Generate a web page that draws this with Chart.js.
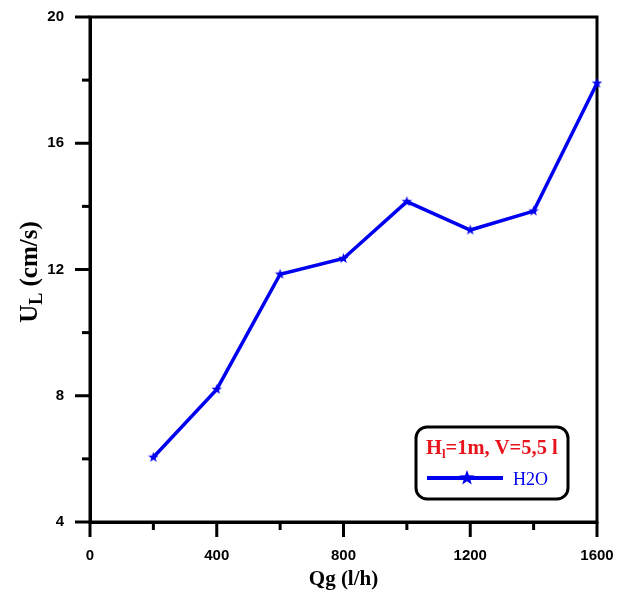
<!DOCTYPE html>
<html>
<head>
<meta charset="UTF-8" />
<script src="https://cdn.jsdelivr.net/npm/chart.js"></script>
<style>
  html, body { margin: 0; padding: 0; background: #fff; }
  #wrap { width: 628px; height: 593px; }
</style>
</head>
<body>
<div id="wrap"><canvas id="chart" width="628" height="593"></canvas></div>
<script>
  // Débit de gaz (l/h) et vitesse du liquide (cm/s)
  const qg = [200, 400, 600, 800, 1000, 1200, 1400, 1600];
  const uL = [6.05, 8.2, 11.85, 12.35, 14.15, 13.25, 13.85, 17.9];
  const xTicks = [0, 400, 800, 1200, 1600];
  const yTicks = [4, 8, 12, 16, 20];
  const xMinor = [200, 600, 1000, 1400];
  const yMinor = [6, 10, 14, 18];
  const seriesName = "H2O";
  const boxTitle = ["H", "l", "=1m, V=5,5 l"];

  const BLUE = "#0000f0";

  // étoile pleine à 5 branches
  function starImage(r) {
    const c = document.createElement("canvas");
    const s = Math.ceil(r * 2 + 4);
    c.width = s; c.height = s;
    const g = c.getContext("2d");
    g.fillStyle = BLUE;
    g.beginPath();
    for (let i = 0; i < 10; i++) {
      const rad = i % 2 === 0 ? r : r * 0.42;
      const ang = -Math.PI / 2 + i * Math.PI / 5;
      const px = s / 2 + rad * Math.cos(ang), py = s / 2 + rad * Math.sin(ang);
      i === 0 ? g.moveTo(px, py) : g.lineTo(px, py);
    }
    g.closePath();
    g.fill();
    return c;
  }
  const starSmall = starImage(5.5);
  const starBig = starImage(8);

  // cadre, graduations, titres d'axes et légende encadrée
  const decor = {
    id: "decor",
    beforeDatasetsDraw(chart) {
      const { ctx, chartArea: a, scales: { x, y } } = chart;
      ctx.save();
      ctx.strokeStyle = "#000";
      ctx.lineWidth = 3;
      ctx.strokeRect(a.left, a.top, a.right - a.left, a.bottom - a.top);
      const tick = (vals, len, axis) => vals.forEach(v => {
        ctx.beginPath();
        if (axis === "y") {
          const py = y.getPixelForValue(v);
          ctx.moveTo(a.left - len, py); ctx.lineTo(a.left, py);
        } else {
          const px = x.getPixelForValue(v);
          ctx.moveTo(px, a.bottom); ctx.lineTo(px, a.bottom + len);
        }
        ctx.stroke();
      });
      tick(yTicks, 15, "y"); tick(yMinor, 8, "y");
      tick(xTicks, 15, "x"); tick(xMinor, 8, "x");
      ctx.restore();
    },
    afterDraw(chart) {
      const { ctx, chartArea: a } = chart;
      ctx.save();
      // titre axe x
      ctx.fillStyle = "#000";
      ctx.font = "bold 21px 'Liberation Serif'";
      ctx.textAlign = "center";
      ctx.textBaseline = "alphabetic";
      ctx.fillText("Qg (l/h)", (a.left + a.right) / 2, 585);

      // titre axe y avec indice
      ctx.translate(37, 272);
      ctx.rotate(-Math.PI / 2);
      ctx.textAlign = "left";
      const big = "bold 25px 'Liberation Serif'", small = "bold 18px 'Liberation Serif'";
      ctx.font = big; const wU = ctx.measureText("U").width;
      ctx.font = small; const wL = ctx.measureText("L").width;
      ctx.font = big; const wR = ctx.measureText(" (cm/s)").width;
      let sx = -(wU + wL + wR) / 2;
      ctx.fillText("U", sx, 0); sx += wU;
      ctx.font = small; ctx.fillText("L", sx, 5); sx += wL;
      ctx.font = big; ctx.fillText(" (cm/s)", sx, 0);
      ctx.setTransform(1, 0, 0, 1, 0, 0);

      // boîte de légende
      ctx.lineWidth = 3;
      ctx.strokeStyle = "#000";
      ctx.fillStyle = "#fff";
      ctx.beginPath();
      ctx.roundRect(416, 427, 152, 72, 11);
      ctx.fill(); ctx.stroke();

      ctx.fillStyle = "#e8141c";
      ctx.textAlign = "left";
      let tx = 426;
      ctx.font = "bold 20.5px 'Liberation Serif'";
      ctx.fillText(boxTitle[0], tx, 454); tx += ctx.measureText(boxTitle[0]).width;
      ctx.font = "bold 13px 'Liberation Serif'";
      ctx.fillText(boxTitle[1], tx, 458); tx += ctx.measureText(boxTitle[1]).width;
      ctx.font = "bold 20.5px 'Liberation Serif'";
      ctx.fillText(boxTitle[2], tx, 454);

      ctx.strokeStyle = BLUE;
      ctx.lineWidth = 4;
      ctx.beginPath(); ctx.moveTo(427, 478); ctx.lineTo(503, 478); ctx.stroke();
      ctx.drawImage(starBig, 467 - starBig.width / 2, 478 - starBig.height / 2);
      ctx.fillStyle = BLUE;
      ctx.font = "18px 'Liberation Serif'";
      ctx.fillText(seriesName, 513, 485);
      ctx.restore();
    }
  };

  const tickFont = { family: "'Liberation Sans', Arial, sans-serif", size: 15, weight: "bold" };
  const noPad = s => { s.paddingTop = 0; s.paddingBottom = 0; s.paddingLeft = 0; s.paddingRight = 0; };

  new Chart(document.getElementById("chart"), {
    type: "line",
    data: {
      datasets: [{
        label: seriesName,
        data: qg.map((v, i) => ({ x: v, y: uL[i] })),
        borderColor: BLUE,
        backgroundColor: BLUE,
        borderWidth: 3.5,
        pointStyle: starSmall,
        pointRadius: 5,
        tension: 0,
        clip: false
      }]
    },
    options: {
      responsive: false,
      animation: false,
      layout: { padding: { left: 0, top: 17, right: 31, bottom: 0 } },
      plugins: { legend: { display: false }, tooltip: { enabled: false } },
      scales: {
        x: {
          type: "linear",
          min: 0, max: 1600,
          afterBuildTicks: s => { s.ticks = xTicks.map(v => ({ value: v })); },
          afterFit: s => { s.height = 71; noPad(s); },
          ticks: { font: tickFont, color: "#000", padding: 25, callback: v => String(v) },
          grid: { display: true, drawOnChartArea: false, drawTicks: false },
          border: { color: "#000", width: 3 }
        },
        y: {
          min: 4, max: 20,
          afterBuildTicks: s => { s.ticks = yTicks.map(v => ({ value: v })); },
          afterFit: s => { s.width = 90; noPad(s); },
          ticks: { font: tickFont, color: "#000", padding: 26, callback: v => String(v) },
          grid: { display: true, drawOnChartArea: false, drawTicks: false },
          border: { color: "#000", width: 3 }
        }
      }
    },
    plugins: [decor]
  });
</script>
</body>
</html>
